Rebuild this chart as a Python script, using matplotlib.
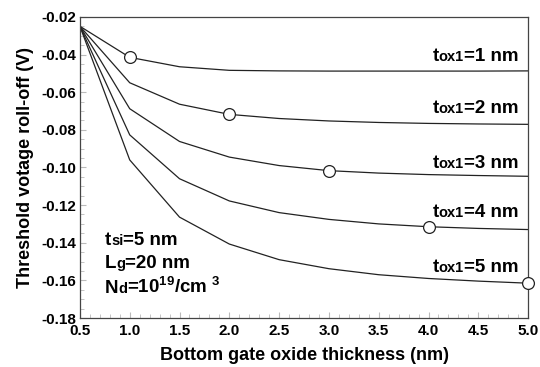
import numpy as np
import matplotlib
matplotlib.use("Agg")
import matplotlib.pyplot as plt
from matplotlib.ticker import MultipleLocator, FormatStrFormatter
from matplotlib.offsetbox import TextArea, HPacker, AnnotationBbox

plt.rcParams['font.family'] = ['Liberation Sans', 'DejaVu Sans']
plt.rcParams['font.weight'] = 'bold'
plt.rcParams['mathtext.fontset'] = 'custom'
plt.rcParams['mathtext.rm'] = 'Liberation Sans:bold'
plt.rcParams['mathtext.bf'] = 'Liberation Sans:bold'
plt.rcParams['mathtext.it'] = 'Liberation Sans:bold'
plt.rcParams['mathtext.default'] = 'bf'

# bottom gate oxide thickness (nm)
t_box = [0.5, 1.0, 1.5, 2.0, 2.5, 3.0, 3.5, 4.0, 4.5, 5.0]

# threshold voltage roll-off (V) for each top oxide thickness
roll_tox1 = [-0.025, -0.0415, -0.0465, -0.0484, -0.0487, -0.0488, -0.0488, -0.0488, -0.0488, -0.0487]
roll_tox2 = [-0.025, -0.0550, -0.0664, -0.0718, -0.0740, -0.0753, -0.0761, -0.0766, -0.0769, -0.0771]
roll_tox3 = [-0.025, -0.0688, -0.0862, -0.0945, -0.0990, -0.1017, -0.1030, -0.1038, -0.1043, -0.1047]
roll_tox4 = [-0.025, -0.0827, -0.1060, -0.1178, -0.1240, -0.1276, -0.1300, -0.1315, -0.1324, -0.1330]
roll_tox5 = [-0.025, -0.0960, -0.1264, -0.1407, -0.1490, -0.1538, -0.1570, -0.1590, -0.1604, -0.1615]

series = [roll_tox1, roll_tox2, roll_tox3, roll_tox4, roll_tox5]
labels = ["1", "2", "3", "4", "5"]
# which point gets the open circle
marker_idx = [1, 3, 5, 7, 9]
# label anchor (right edge, vertical centre)
label_y = [-0.0413, -0.0687, -0.0979, -0.124, -0.153]

BIG = 13.5
SMALL = 10.5


def rich_label(ax, x, y, parts, align_x):
    # parts: list of (text, fontsize) laid side by side on one baseline
    boxes = [TextArea(s, textprops=dict(fontsize=fs, fontweight='bold', color='black'))
             for s, fs in parts]
    pack = HPacker(children=boxes, align='baseline', pad=0, sep=0)
    ab = AnnotationBbox(pack, (x, y), xycoords='data', box_alignment=(align_x, 0.5),
                        frameon=False, pad=0, zorder=4)
    ax.add_artist(ab)


fig = plt.figure(figsize=(5.4, 3.67), dpi=100)
ax = fig.add_axes([0.148, 0.1335, 0.83, 0.8205])

for vals, lab, mi, ly in zip(series, labels, marker_idx, label_y):
    ax.plot(t_box, vals, color='#222222', lw=0.9, zorder=2)
    ax.plot(t_box[mi], vals[mi], 'o', ms=8.5, mfc='white', mec='#222222',
            mew=0.9, zorder=3, clip_on=False)
    rich_label(ax, 4.9, ly, [("t", BIG), ("ox1", SMALL), ("=" + lab + " nm", BIG)], 1)

rich_label(ax, 0.75, -0.1388, [("t", BIG), ("si", SMALL), ("=5 nm", BIG)], 0)
rich_label(ax, 0.75, -0.1512, [("L", BIG), ("g", SMALL), ("=20 nm", BIG)], 0)
rich_label(ax, 0.75, -0.1635, [("N", BIG), ("d", SMALL), (r"=10$^{19}$/cm $^{3}$", BIG)], 0)

ax.set_xlim(0.5, 5.0)
ax.set_ylim(-0.18, -0.02)
ax.xaxis.set_major_locator(MultipleLocator(0.5))
ax.xaxis.set_minor_locator(MultipleLocator(0.1))
ax.yaxis.set_major_locator(MultipleLocator(0.02))
ax.yaxis.set_minor_locator(MultipleLocator(0.005))
ax.xaxis.set_major_formatter(FormatStrFormatter('%.1f'))
ax.yaxis.set_major_formatter(FormatStrFormatter('%.2f'))
ax.tick_params(which='both', direction='in', color='#bbbbbb', labelsize=11)
ax.tick_params(axis='x', pad=4)
ax.tick_params(axis='y', pad=3)
ax.tick_params(which='major', length=4)
ax.tick_params(which='minor', length=3)
for lbl in ax.get_xticklabels() + ax.get_yticklabels():
    lbl.set_fontweight('bold')
for sp in ax.spines.values():
    sp.set_color('#444444')
    sp.set_linewidth(0.9)

ax.set_xlabel("Bottom gate oxide thickness (nm)", fontsize=13, fontweight='bold', labelpad=7)
ax.set_ylabel("Threshold votage roll-off (V)", fontsize=13, fontweight='bold', labelpad=5)

fig.savefig("out.png", dpi=100)
